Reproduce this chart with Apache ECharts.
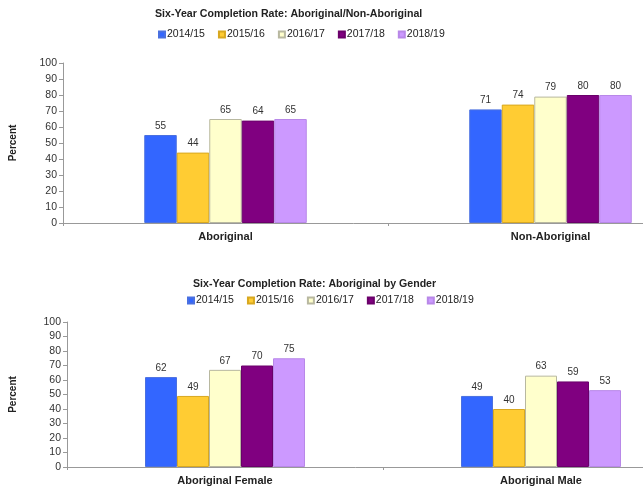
<!DOCTYPE html>
<html><head><meta charset="utf-8">
<script src="https://cdn.jsdelivr.net/npm/echarts@6/dist/echarts.min.js"></script>
<style>html,body{margin:0;padding:0;background:#fff}#c{width:643px;height:488px}</style>
</head><body><div id="c"></div>
<script>
const years = ['2014/15','2015/16','2016/17','2017/18','2018/19'];
const topCategories = ['Aboriginal','Non-Aboriginal'];
const bottomCategories = ['Aboriginal Female','Aboriginal Male'];
const topValues = [[55,71],[44,74],[65,79],[64,80],[65,80]];
const bottomValues = [[62,49],[49,40],[67,63],[70,59],[75,53]];
const yTicks = [0,10,20,30,40,50,60,70,80,90,100];
const colors = ['#3366FF','#FFCC33','#FFFFCC','#800080','#CC99FF'];
const borders = ['#4a70e0','#d8a820','#b8b8a0','#6a006a','#b888e8'];
const FONT = '"Liberation Sans", Arial, sans-serif';

const chart = echarts.init(document.getElementById('c'));
function mkSeries(vals, axisIdx, bw){
  return years.map((y,i)=>({
    name:y, type:'bar', xAxisIndex:axisIdx, yAxisIndex:axisIdx,
    data: vals[i], barWidth: bw, barGap:'0%',
    itemStyle:{color:colors[i], borderColor:borders[i], borderWidth:1},
    label:{show:true, position:'top', distance:4, fontSize:10, color:'#333', fontFamily:FONT},
    emphasis:{disabled:true}
  }));
}
function mkY(idx, gap){
  return {type:'value', gridIndex:idx, min:yTicks[0], max:yTicks[yTicks.length-1], interval:yTicks[1]-yTicks[0],
    name:'Percent', nameLocation:'middle', nameRotate:90, nameGap:gap,
    nameTextStyle:{fontSize:10, fontWeight:'bold', color:'#222', fontFamily:FONT},
    axisLine:{show:true, lineStyle:{color:'#999'}},
    axisTick:{show:true, length:4, lineStyle:{color:'#999'}},
    axisLabel:{fontSize:10.5, color:'#333', margin:6, fontFamily:FONT},
    splitLine:{show:false}};
}
function mkX(idx, cats){
  return {type:'category', gridIndex:idx, data:cats,
    axisLine:{lineStyle:{color:'#999'}},
    axisTick:{show:true, length:3, lineStyle:{color:'#999'}},
    axisLabel:{fontSize:11, fontWeight:'bold', color:'#222', margin:8, fontFamily:FONT}};
}
const legendCommon = {itemWidth:6, itemHeight:6, itemGap:13, icon:'rect',
  textStyle:{fontSize:10.5, color:'#222', fontFamily:FONT, padding:[0,0,0,-3]}, data:years, selectedMode:false};
chart.setOption({
  animation:false,
  title:[
    {text:'Six-Year Completion Rate: Aboriginal/Non-Aboriginal', left:150, top:4,
     textStyle:{fontSize:10.6, fontWeight:'bold', color:'#222', fontFamily:FONT}},
    {text:'Six-Year Completion Rate: Aboriginal by Gender', left:188, top:274,
     textStyle:{fontSize:10.6, fontWeight:'bold', color:'#222', fontFamily:FONT}}
  ],
  legend:[
    Object.assign({left:153, top:24}, legendCommon),
    Object.assign({left:182, top:290}, legendCommon)
  ],
  grid:[
    {left:63, top:63, right:-70, height:160, outerBoundsMode:'none', containLabel:false},
    {left:67, top:322, right:-56, height:145, outerBoundsMode:'none', containLabel:false}
  ],
  xAxis:[mkX(0, topCategories), mkX(1, bottomCategories)],
  yAxis:[mkY(0, 45), mkY(1, 49)],
  series: mkSeries(topValues,0,32.5).concat(mkSeries(bottomValues,1,32))
});
</script></body></html>
